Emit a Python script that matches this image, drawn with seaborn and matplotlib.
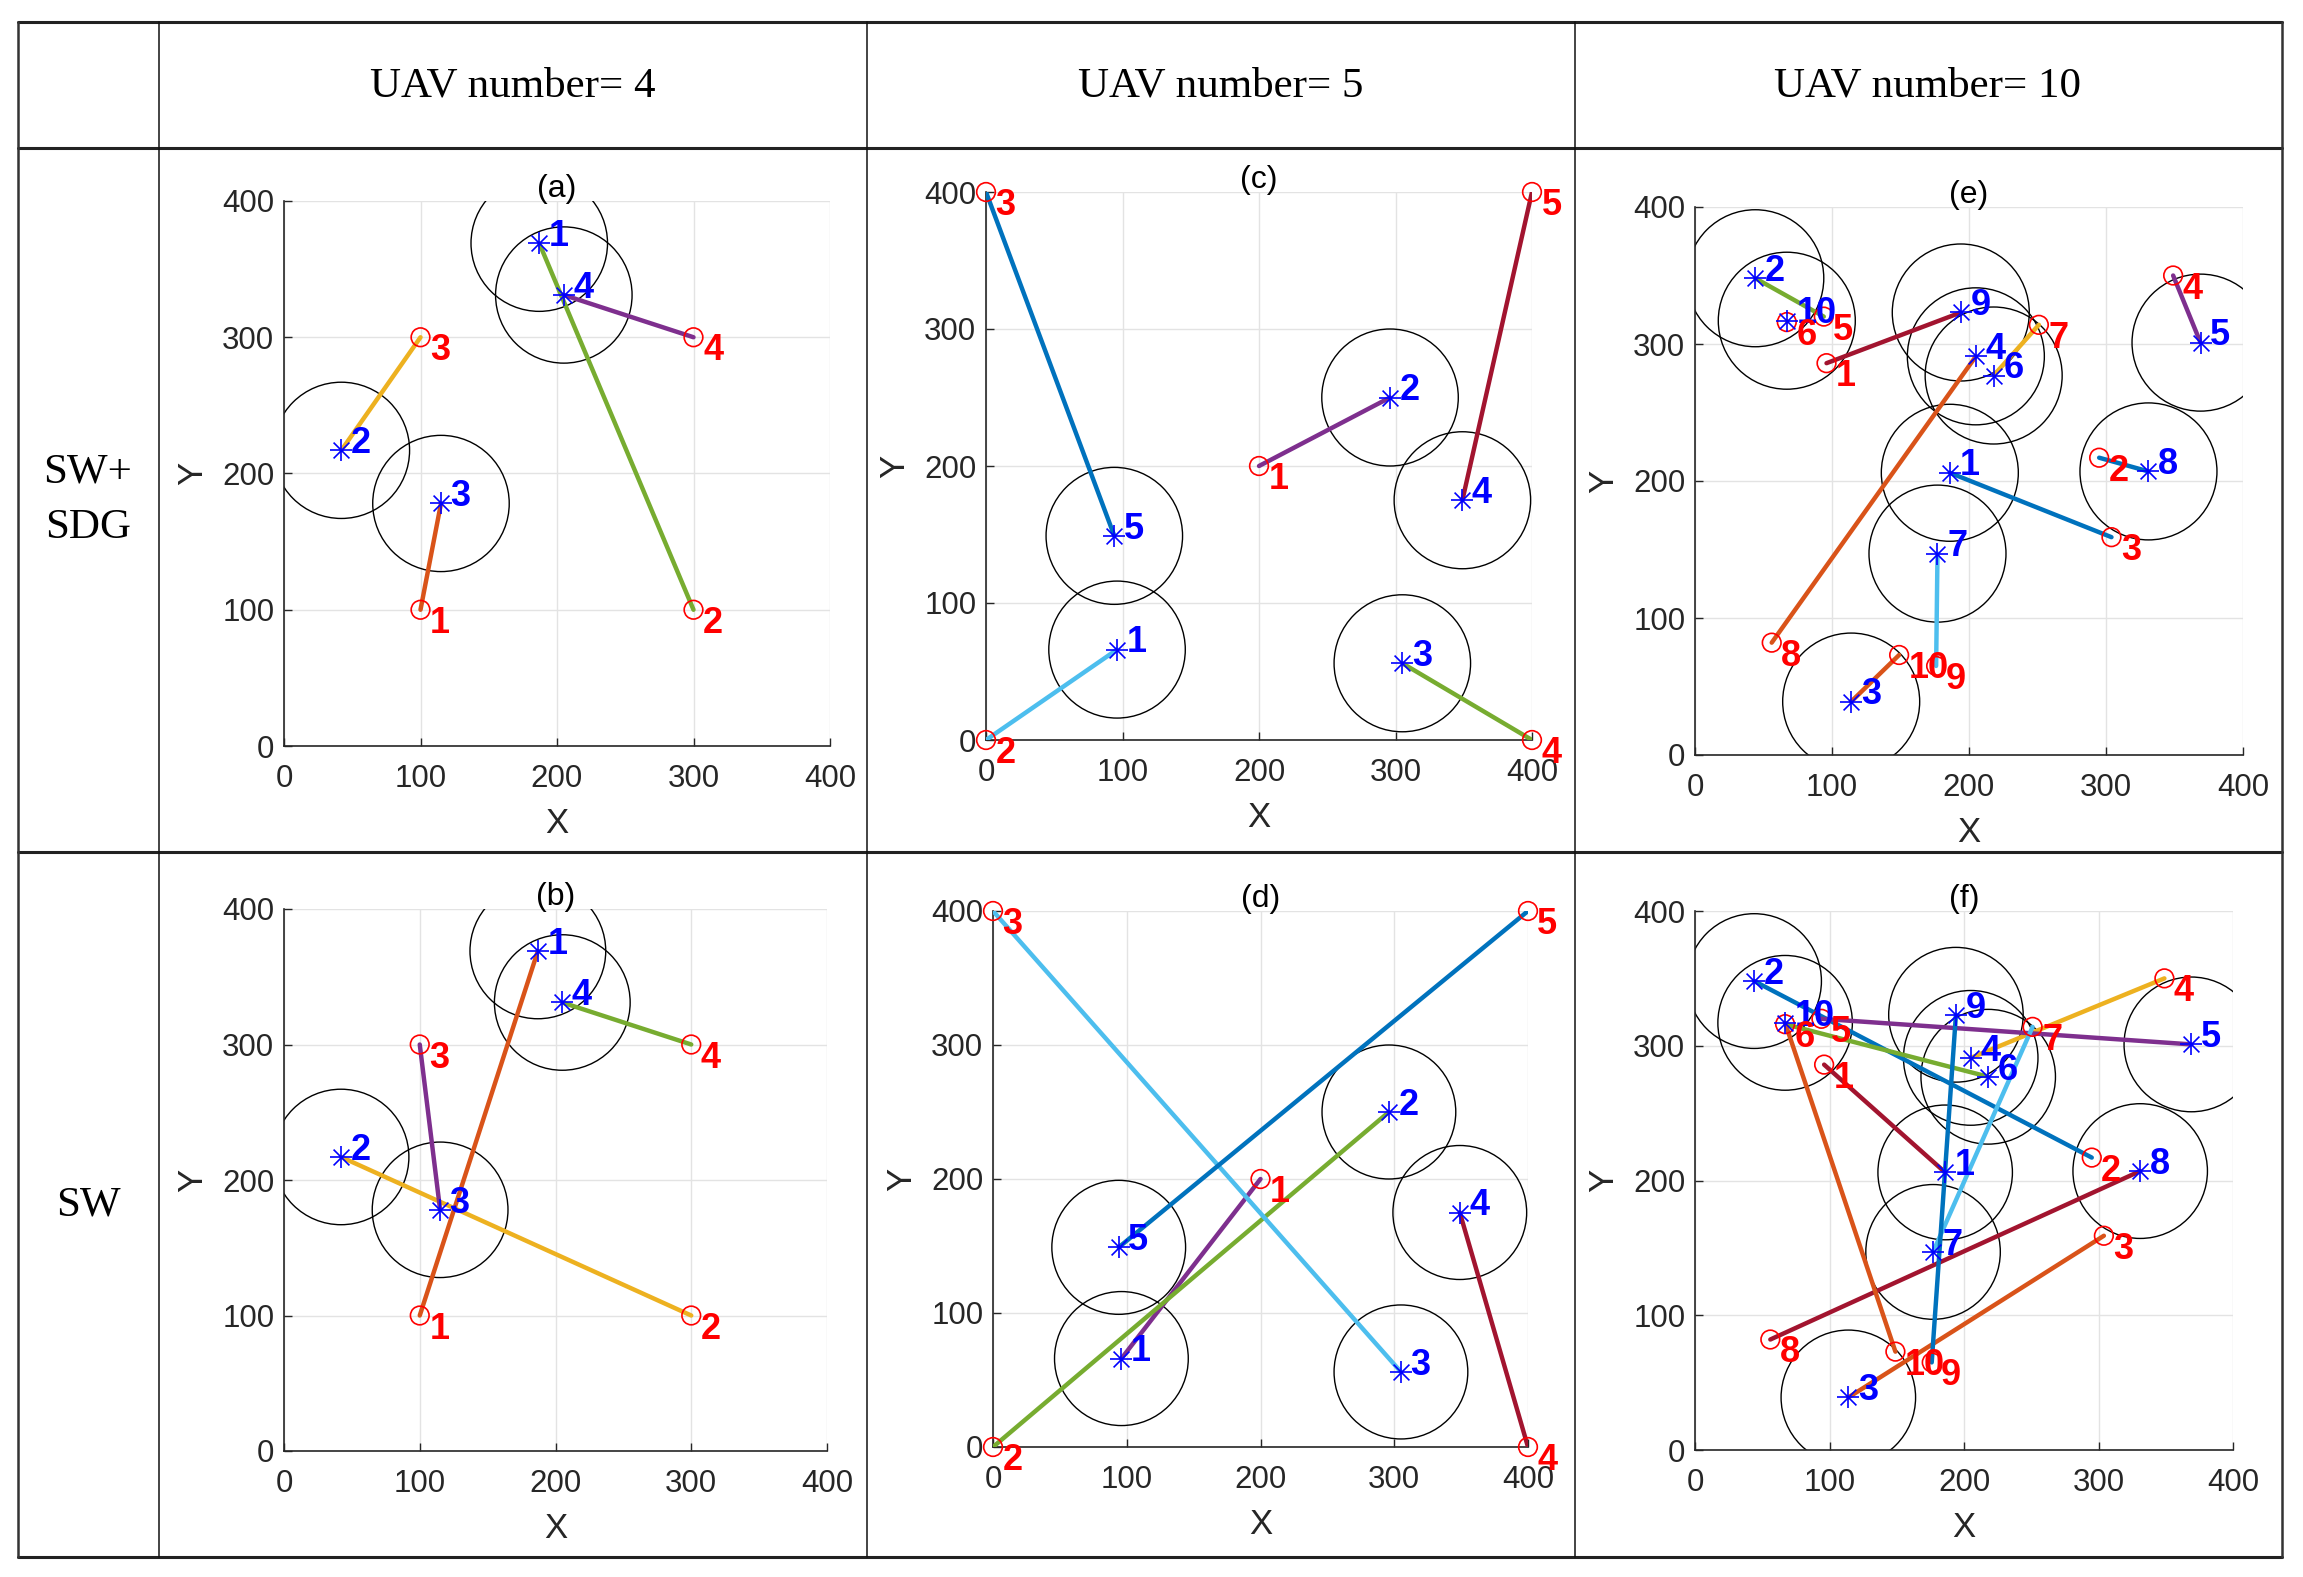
import matplotlib
matplotlib.use("Agg")
import matplotlib.pyplot as plt
from matplotlib.patches import Circle
from matplotlib.lines import Line2D
import seaborn as sns

# MATLAB default line colours
C1 = "#0072BD"
C2 = "#D95319"
C3 = "#EDB120"
C4 = "#7E2F8E"
C5 = "#77AC30"
C6 = "#4DBEEE"
C7 = "#A2142F"

# UAV number = 4
uav4_x = [187, 42, 115, 205]
uav4_y = [369, 217, 178, 331]
tgt4_x = [100, 300, 100, 300]
tgt4_y = [100, 100, 300, 300]
assign_a = [2, 3, 1, 4]
colors_a = [C5, C3, C2, C4]
assign_b = [1, 2, 3, 4]
colors_b = [C2, C3, C4, C5]

# UAV number = 5
uav5_x = [96, 296, 305, 349, 94]
uav5_y = [66, 250, 56, 175, 149]
tgt5_x = [200, 0, 0, 400, 400]
tgt5_y = [200, 0, 400, 0, 400]
assign_c = [2, 1, 4, 5, 3]
colors_c = [C6, C4, C5, C7, C1]
assign_d = [1, 2, 3, 4, 5]
colors_d = [C4, C5, C6, C7, C1]

# UAV number = 10
uav10_x = [186, 44, 114, 205, 369, 218, 177, 331, 194, 67]
uav10_y = [206, 348, 39, 291, 301, 277, 147, 207, 323, 317]
tgt10_x = [96, 295, 304, 349, 94, 67, 251, 56, 176, 149]
tgt10_y = [286, 217, 159, 350, 320, 316, 314, 82, 65, 73]
assign_e = [3, 5, 10, 8, 4, 7, 9, 2, 1, 6]
colors_e = [C1, C5, C2, C2, C4, C3, C6, C1, C7, C3]
assign_f = [1, 2, 3, 4, 5, 6, 7, 8, 9, 10]
colors_f = [C7, C1, C2, C3, C4, C5, C6, C7, C1, C2]

radius = 50
col_titles = ["UAV number= 4", "UAV number= 5", "UAV number= 10"]
row_titles = ["SW+\nSDG", "SW"]

W, H = 2303, 1577

sns.set_theme(style="white")
plt.rcParams["font.family"] = ["Liberation Sans", "DejaVu Sans"]

fig = plt.figure(figsize=(W / 100, H / 100), dpi=100)
fig.patch.set_facecolor("white")


def fx(px):
    return px / W


def fy(py):
    return 1 - py / H


# table grid
tl, tr = 18, 2282
hlines = [22, 148, 852, 1557]
vlines = [159, 867, 1575]
for y in hlines:
    fig.add_artist(Line2D([fx(tl), fx(tr)], [fy(y), fy(y)], color="#222222", lw=2.2))
for x in [tl, tr]:
    fig.add_artist(Line2D([fx(x), fx(x)], [fy(22), fy(1557)], color="#333333", lw=1.8))
for x in vlines:
    fig.add_artist(Line2D([fx(x), fx(x)], [fy(22), fy(1557)], color="#111111", lw=1.1))

col_cx = [513, 1221, 1928]
for cx, t in zip(col_cx, col_titles):
    fig.text(fx(cx), fy(86), t, ha="center", va="center", fontsize=31,
             family="Liberation Serif", color="black")
for cy, t in zip([500, 1205], row_titles):
    fig.text(fx(88), fy(cy), t, ha="center", va="center", fontsize=31,
             family="Liberation Serif", color="black", linespacing=1.55)

# panel boxes in pixels: left, top, right, bottom
panels = [
    ("(a)", uav4_x, uav4_y, tgt4_x, tgt4_y, assign_a, colors_a, (284, 201, 830, 746)),
    ("(b)", uav4_x, uav4_y, tgt4_x, tgt4_y, assign_b, colors_b, (284, 909, 827, 1451)),
    ("(c)", uav5_x, uav5_y, tgt5_x, tgt5_y, assign_c, colors_c, (986, 192, 1532, 740)),
    ("(d)", uav5_x, uav5_y, tgt5_x, tgt5_y, assign_d, colors_d, (993, 911, 1528, 1447)),
    ("(e)", uav10_x, uav10_y, tgt10_x, tgt10_y, assign_e, colors_e, (1695, 207, 2243, 755)),
    ("(f)", uav10_x, uav10_y, tgt10_x, tgt10_y, assign_f, colors_f, (1695, 911, 2233, 1450)),
]

for title, ux, uy, tx, ty, assign, cols, box in panels:
    l, t, r, b = box
    ax = fig.add_axes([fx(l), fy(b), (r - l) / W, (b - t) / H])
    ax.set_xlim(0, 400)
    ax.set_ylim(0, 400)
    ax.set_xticks([0, 100, 200, 300, 400])
    ax.set_yticks([0, 100, 200, 300, 400])
    ax.grid(True, color="#e3e3e3", lw=1.0)
    ax.set_axisbelow(True)
    sns.despine(ax=ax)
    for s in ["left", "bottom"]:
        ax.spines[s].set_color("#262626")
        ax.spines[s].set_linewidth(1.2)
    ax.tick_params(direction="in", length=6, width=1, color="#262626",
                   labelsize=22.5, labelcolor="#262626", left=True, bottom=True)
    ax.tick_params(axis="x", pad=13)
    ax.tick_params(axis="y", pad=7)
    ax.set_xlabel("X", fontsize=25, color="#262626", labelpad=9)
    ax.set_ylabel("Y", fontsize=25, color="#262626", labelpad=9)
    ax.set_title(title, fontsize=23, color="black", pad=3)

    for x, y in zip(ux, uy):
        ax.add_patch(Circle((x, y), radius, fill=False, ec="black", lw=1.0, zorder=2))

    for i, (k, c) in enumerate(zip(assign, cols)):
        sns.lineplot(x=[ux[i], tx[k - 1]], y=[uy[i], ty[k - 1]], ax=ax, color=c,
                     linewidth=3.2, sort=False, estimator=None, zorder=3)

    sns.scatterplot(x=tx, y=ty, ax=ax, marker="o", s=180, facecolors="none",
                    edgecolor="red", color="red", linewidth=1.2, zorder=4, clip_on=False)
    sns.scatterplot(x=ux, y=uy, ax=ax, marker="+", s=260, color="blue",
                    linewidth=1.2, zorder=5, clip_on=False)
    sns.scatterplot(x=ux, y=uy, ax=ax, marker="x", s=130, color="blue",
                    linewidth=1.2, zorder=5, clip_on=False)

    for i, (x, y) in enumerate(zip(ux, uy)):
        ax.text(x + 7, y + 5, str(i + 1), color="blue", fontsize=26,
                fontweight="bold", ha="left", va="center", zorder=6)
    for i, (x, y) in enumerate(zip(tx, ty)):
        ax.text(x + 7, y - 10, str(i + 1), color="red", fontsize=26,
                fontweight="bold", ha="left", va="center", zorder=6)

fig.savefig("out.png", dpi=100, facecolor="white")
